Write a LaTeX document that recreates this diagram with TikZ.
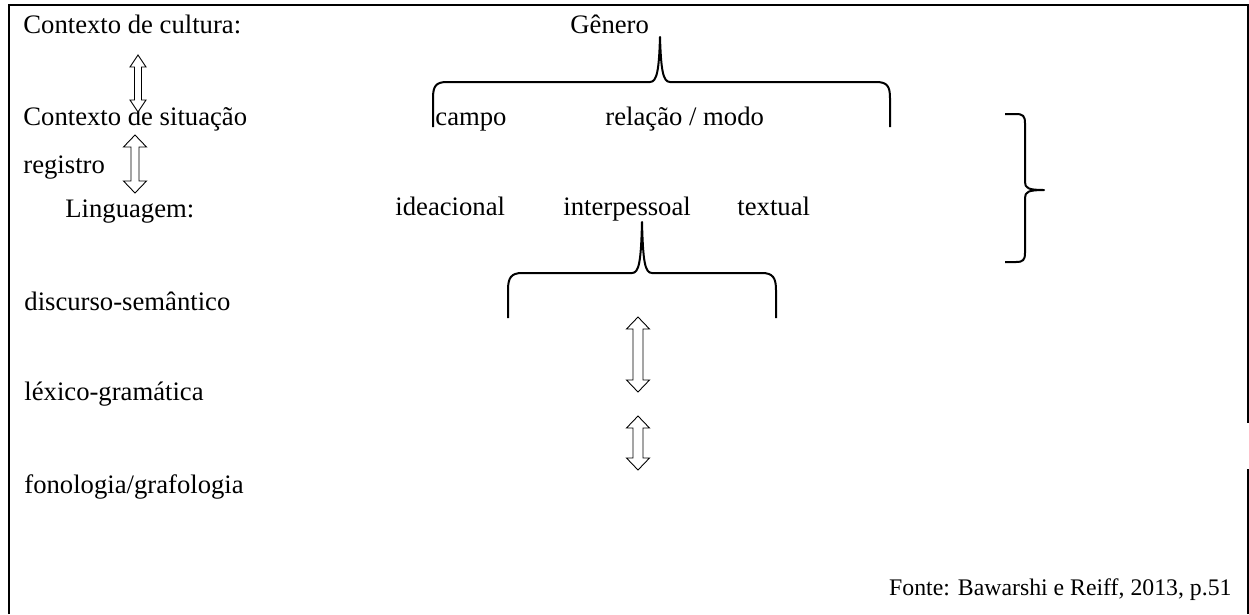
\documentclass[tikz,border=0pt]{standalone}
\usepackage{fontspec}
\setmainfont{Liberation Serif}
\newcommand{\updown}[5]{% x, top tip, bottom tip, half shaft, half head
\draw[hollow] (#1,#2) -- (#1+#5,#2+12) -- (#1+#4,#2+12) -- (#1+#4,#3-12) -- (#1+#5,#3-12) -- (#1,#3)
  -- (#1-#5,#3-12) -- (#1-#4,#3-12) -- (#1-#4,#2+12) -- (#1-#5,#2+12) -- cycle;}
\begin{document}
\begin{tikzpicture}[x=0.45pt,y=-0.45pt,
  lbl/.style={anchor=base west,inner sep=0pt,font=\fontsize{12pt}{14pt}\selectfont},
  brace/.style={line width=0.9pt,line join=round},
  hollow/.style={line width=0.4pt,fill=white},
  frame/.style={line width=1pt}]
\useasboundingbox (0,0) rectangle (1249,614);
\draw[frame] (9,614) -- (9,5) -- (1248,5) -- (1248,423);
\draw[frame] (1248,469) -- (1248,614);
% left column
\node[lbl] (cultura) at (23,33) {Contexto de cultura:};
\node[lbl] (situacao) at (23,125) {Contexto de situação};
\node[lbl] (registro) at (23,173) {registro};
\node[lbl] (linguagem) at (65,217) {Linguagem:};
\node[lbl] (discurso) at (24,310) {discurso-semântico};
\node[lbl] (lexico) at (24,400) {léxico-gramática};
\node[lbl] (fonologia) at (24,493) {fonologia/grafologia};
% middle
\node[lbl] (genero) at (570,33) {Gênero};
\node[lbl] (campo) at (435,125) {campo};
\node[lbl] (relmodo) at (605,125) {relação / modo};
\node[lbl] (ideac) at (395,215) {ideacional};
\node[lbl] (interp) at (563,215) {interpessoal};
\node[lbl] (textual) at (737,215) {textual};
\node[lbl,anchor=base east,font=\fontsize{10.7pt}{13pt}\selectfont] (fonte) at (1232,595) {Fonte: Bawarshi e Reiff, 2013, p.51};
% braces
\draw[brace] (433,127) -- (433,98) .. controls (433,86) and (436,82) .. (447,82) -- (650,82)
  .. controls (657,82) and (659,70) .. (660,37) .. controls (661,70) and (663,82) .. (670,82)
  -- (876,82) .. controls (887,82) and (890,86) .. (890,98) -- (890,127);
\draw[brace] (508,318) -- (508,290) .. controls (508,278) and (511,273) .. (522,273) -- (632,273)
  .. controls (639,273) and (641,262) .. (642,222) .. controls (643,262) and (645,273) .. (652,273)
  -- (762,273) .. controls (773,273) and (776,278) .. (776,290) -- (776,318);
\draw[brace] (1005,114) -- (1016,114) .. controls (1023,114) and (1025,116) .. (1025,123) -- (1025,182)
  .. controls (1025,188) and (1028,190) .. (1044,190) .. controls (1028,190) and (1025,192) .. (1025,198)
  -- (1025,253) .. controls (1025,260) and (1023,262) .. (1016,262) -- (1005,262);
% double arrows
\updown{138}{55}{112}{3.5}{8}
\updown{135}{135}{193}{4}{11.5}
\updown{638}{317}{392}{5}{11.5}
\updown{638}{416}{470}{5}{11.5}
\end{tikzpicture}
\end{document}
